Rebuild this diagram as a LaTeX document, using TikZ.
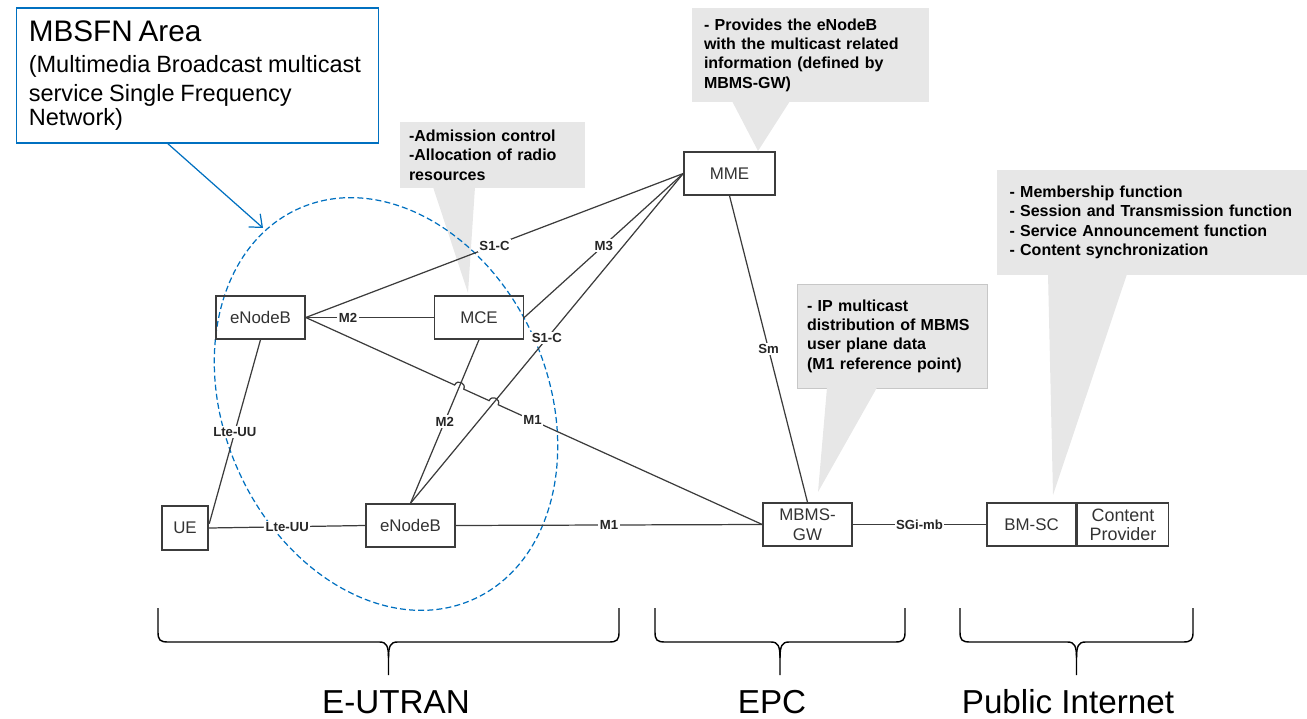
\documentclass[tikz,border=0pt]{standalone}
\usepackage{fontspec}
\setmainfont{Liberation Sans}
\usetikzlibrary{arrows.meta,calc,intersections}

\definecolor{calloutgray}{RGB}{231,231,231}
\definecolor{linegray}{RGB}{60,60,60}
\definecolor{areablue}{RGB}{0,112,192}

\tikzset{
  elem/.style={draw=linegray, line width=0.85pt, text=black!80, font=\fontsize{9.6}{11.5}\selectfont,
    minimum width=1.78cm, minimum height=0.86cm, inner sep=0pt, align=center},
  link/.style={draw=linegray, line width=0.7pt},
  lbl/.style={fill=white, inner sep=0.8pt, text=black!85, font=\bfseries\fontsize{7.5}{9}\selectfont},
  note/.style={fill=calloutgray, align=left, inner ysep=0pt, font=\bfseries\fontsize{9.1}{11}\selectfont},
  bigtext/.style={font=\fontsize{18.9}{22}\selectfont},
}

\begin{document}
\begin{tikzpicture}[x=0.02cm, y=-0.02cm]
  \useasboundingbox (0,0) rectangle (1307,719);

  % grey callouts behind everything
  \node[note, inner xsep=0.18cm, text width=3.34cm, minimum height=1.32cm] (admnote) at (492.5,155)
    {-Admission control\\-Allocation of radio\\resources};
  \node[note, inner xsep=0.24cm, text width=4.26cm, minimum height=1.88cm] (mmenote) at (810.5,55)
    {- Provides the eNodeB\\with the multicast related\\information (defined by\\MBMS-GW)};
  \node[note, draw=black!22, line width=0.5pt, inner xsep=0.2cm, text width=3.4cm, minimum height=2.08cm] (ipnote) at (892,336)
    {- IP multicast\\distribution of MBMS\\user plane data\\(M1 reference point)};
  \node[note, inner xsep=0.25cm, text width=5.7cm, minimum height=2.1cm] (bmnote) at (1152,222.5)
    {- Membership function\\- Session and Transmission function\\- Service Announcement function\\- Content synchronization};

  \coordinate (admtip) at (468,293);
  \coordinate (mmetip) at (758,151);
  \coordinate (iptip) at (818,492);
  \coordinate (bmtip) at (1053,495);
  \fill[calloutgray] (433,187) -- (475,187) -- (admtip) -- cycle;
  \fill[calloutgray] (732,101) -- (790,101) -- (mmetip) -- cycle;
  \fill[calloutgray] (827,387.5) -- (877,387.5) -- (iptip) -- cycle;
  \fill[calloutgray] (1048,274) -- (1127,274) -- (bmtip) -- cycle;

  % MBSFN area
  \node[draw=areablue, line width=0.7pt, align=left, text width=6.75cm, inner xsep=0.24cm, minimum height=2.7cm] (mbsfn) at (197.5,75.5)
    {{\fontsize{16.9}{20}\selectfont MBSFN Area}\\[1.5pt]
     \fontsize{13.4}{16.4}\selectfont (Multimedia Broadcast multicast\\service Single Frequency\\Network)};
  \coordinate (areatip) at (263,228);
  \draw[areablue, line width=0.7pt, -{Straight Barb[length=6pt,width=10pt]}]
    ($(mbsfn.south west)!0.418!(mbsfn.south east)$) -- (areatip);
  \draw[areablue, line width=0.7pt, dash pattern=on 3.4pt off 1.8pt] (386,404) ellipse [x radius=162, y radius=214, rotate=24];

  % network elements
  \node[elem] (enba) at (260.5,317.5) {eNodeB};
  \node[elem] (mce) at (479,317.5) {MCE};
  \node[elem, minimum width=1.82cm] (mme) at (729.5,173.5) {MME};
  \node[elem, line width=1.4pt, minimum width=0.92cm, minimum height=0.88cm] (ue) at (185,528) {UE};
  \node[elem] (enbb) at (410.5,525.5) {eNodeB};
  \node[elem] (gw) at (807.5,524.5) {MBMS-\\GW};
  \node[elem] (bmsc) at (1031.5,524.5) {BM-SC};
  \node[elem, anchor=west, minimum width=1.82cm, font=\fontsize{10.2}{10.8}\selectfont] (cp) at (bmsc.east) {Content\\Provider};

  % interfaces
  \draw[link] (enba.east) -- node[lbl, pos=0.33] {M2} (mce.west);
  \draw[link] (enba.east) -- node[lbl] {S1-C} (mme.west);
  \draw[link] (mce.east) -- node[lbl] {M3} (mme.west);
  \draw[link, name path=s1low] (enbb.north) -- node[lbl] {S1-C} (mme.west);
  \draw[link, name path=m2low] (mce.south) -- node[lbl] {M2} (enbb.north);
  \draw[link] (enba.south) -- node[lbl] {Lte-UU} (ue.10);
  \draw[link] (ue.east) -- node[lbl] {Lte-UU} (enbb.west);
  \draw[link] (enbb.east) -- node[lbl] {M1} (gw.west);
  \draw[link] (mme.south) -- node[lbl] {Sm} (gw.north);
  \draw[link] (gw.east) -- node[lbl] {SGi-mb} (bmsc.west);

  % M1 from the upper eNodeB hops over two lines
  \path[name path=m1top] (enba.east) -- (gw.west);
  \path[name intersections={of=m1top and m2low, by=hopa}];
  \path[name intersections={of=m1top and s1low, by=hopb}];
  \draw[link] (enba.east) -- ($(hopa)!0.1cm!(enba.east)$)
    to[bend left=90, looseness=1.7] ($(hopa)!0.1cm!(gw.west)$) -- ($(hopb)!0.1cm!(enba.east)$)
    to[bend left=90, looseness=1.7] ($(hopb)!0.1cm!(gw.west)$) -- node[lbl, pos=0.13] {M1} (gw.west);

  % domains
  \foreach \bl/\br/\bx/\bname/\btext in {158/619/396/eutran/E-UTRAN, 655/905/772/epc/EPC, 960/1193/1068/inet/Public Internet}{
    \pgfmathsetmacro{\bm}{(\bl+\br)/2}
    \draw[line width=0.8pt] (\bl,608) -- (\bl,632) .. controls (\bl,640) and (\bl+2,642) .. (\bl+10,642)
      -- (\bm-9,642) .. controls (\bm-2,642) and (\bm,646) .. (\bm,658) -- (\bm,675);
    \draw[line width=0.8pt] (\br,608) -- (\br,632) .. controls (\br,640) and (\br-2,642) .. (\br-10,642)
      -- (\bm+9,642) .. controls (\bm+2,642) and (\bm,646) .. (\bm,658);
    \node[bigtext, anchor=base] (\bname) at (\bx,713) {\btext};
  }
\end{tikzpicture}
\end{document}
